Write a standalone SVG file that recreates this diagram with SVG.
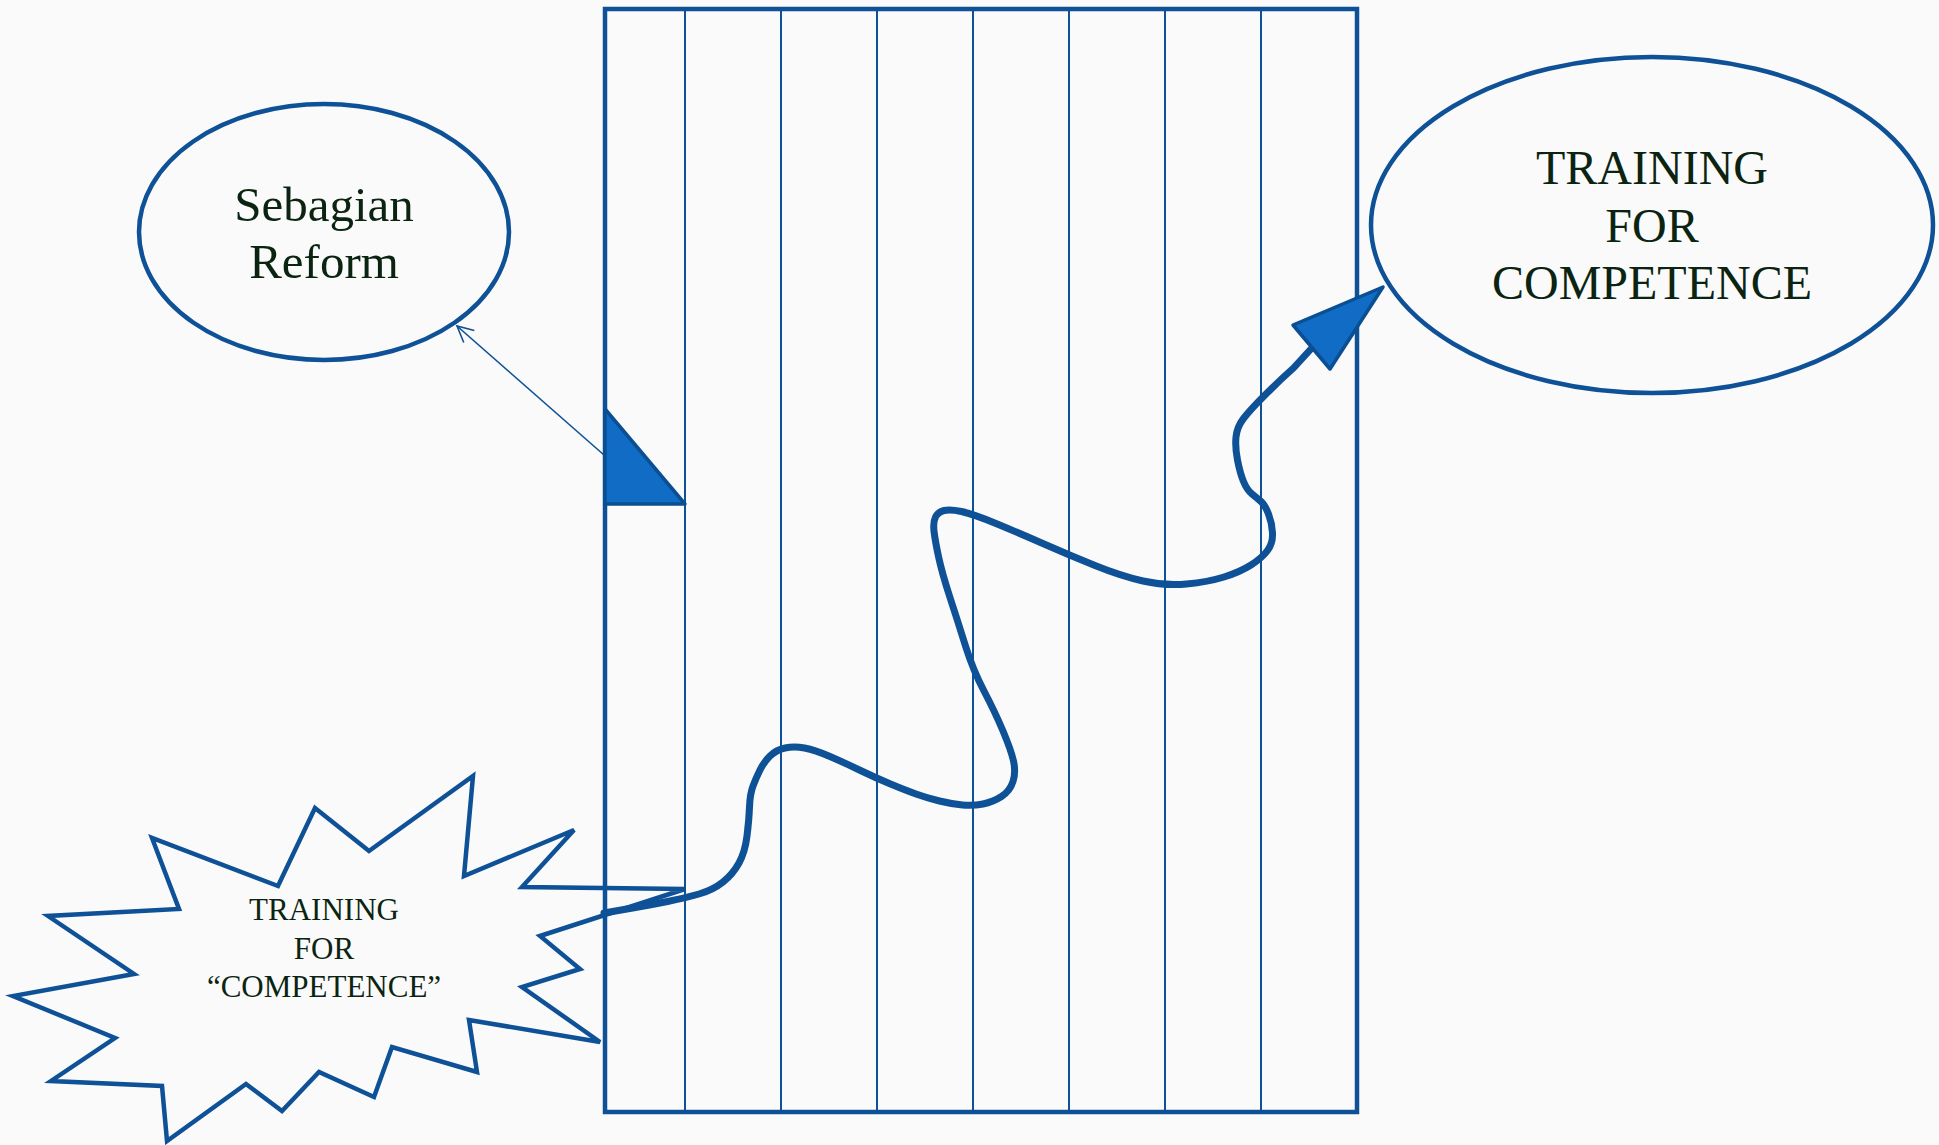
<svg xmlns="http://www.w3.org/2000/svg" width="1939" height="1145" viewBox="0 0 1939 1145">
<defs>
<style>
.ln{fill:none;stroke:#0e5197;}
.txt{font-family:"Liberation Serif","DejaVu Serif",serif;fill:#0b2411;text-anchor:middle;}
.fillTri{fill:#106cc4;stroke:#0b4f93;stroke-width:3.5;stroke-linejoin:round;}
</style>
<marker id="openArrow" markerWidth="20" markerHeight="20" refX="17" refY="10" orient="auto" markerUnits="userSpaceOnUse">
<path d="M1,2 L17,10 L1,18" fill="none" stroke="#0e5197" stroke-width="1.6"/>
</marker>
</defs>
<rect x="0" y="0" width="1939" height="1145" fill="#fafafa"/>

<g id="grid">
<rect class="ln" x="605" y="9" width="752" height="1103" stroke-width="4.5"/>
<g class="ln" stroke-width="2">
<line x1="685" y1="9" x2="685" y2="1112"/>
<line x1="781" y1="9" x2="781" y2="1112"/>
<line x1="877" y1="9" x2="877" y2="1112"/>
<line x1="973" y1="9" x2="973" y2="1112"/>
<line x1="1069" y1="9" x2="1069" y2="1112"/>
<line x1="1165" y1="9" x2="1165" y2="1112"/>
<line x1="1261" y1="9" x2="1261" y2="1112"/>
</g>
</g>

<g id="node-sebagian">
<ellipse class="ln" cx="324" cy="232" rx="185" ry="128" stroke-width="4.5"/>
<text class="txt" x="324" y="221" font-size="49">Sebagian</text>
<text class="txt" x="324" y="278" font-size="49">Reform</text>
</g>

<g id="node-training-competence">
<ellipse class="ln" cx="1652" cy="225" rx="281" ry="168" stroke-width="4.5"/>
<text class="txt" x="1652" y="184" font-size="48">TRAINING</text>
<text class="txt" x="1652" y="242" font-size="48">FOR</text>
<text class="txt" x="1652" y="299" font-size="48">COMPETENCE</text>
</g>

<g id="node-training-quoted">
<polygon class="ln" stroke-width="4.5" stroke-linejoin="miter" points="473,776 464,876 574,830 522,887 685,889 540,936 580,969 522,987 600,1042 469,1020 477,1072 392,1047 374,1097 319,1072 282,1111 246,1084 167,1141 162,1086 51,1081 115,1038 13,996 134,974 48,916 179,909 152,838 278,886 315,808 369,851"/>
<text class="txt" x="324" y="920" font-size="31">TRAINING</text>
<text class="txt" x="324" y="959" font-size="31">FOR</text>
<text class="txt" x="324" y="997" font-size="31">“COMPETENCE”</text>
</g>

<g id="node-marker-triangle">
<polygon class="fillTri" points="605,409 685,504 605,504"/>
</g>

<g id="connectors">
<line class="ln" x1="604" y1="455" x2="457" y2="326" stroke-width="1.6" marker-end="url(#openArrow)"/>
<path class="ln" stroke-width="7" stroke-linecap="round" stroke-linejoin="round" d="M604,913 Q621,910 635.5,907.5 Q650,905 667.5,901.5 Q685,898 699,894 Q713,890 723,882 Q733,874 739,863 Q745,852 747,836 Q749,820 749.5,807 Q750,794 753,786 Q756,778 760,770 Q764,762 770,756 Q776,750 785,748 Q794,746 804.5,748 Q815,750 830,756.5 Q845,763 860.5,770.5 Q876,778 890.5,784 Q905,790 916,794 Q927,798 939.5,801 Q952,804 962.5,805 Q973,806 983,804 Q993,802 1001.5,796.5 Q1010,791 1013,781.5 Q1016,772 1013.5,761 Q1011,750 1003,731 Q995,712 984,691 Q973,670 965.5,646 Q958,622 950,597.5 Q942,573 938.5,556.5 Q935,540 934,531 Q933,522 935.5,517 Q938,512 944,510.5 Q950,509 961.5,511.5 Q973,514 996,523.5 Q1019,533 1044,544 Q1069,555 1095,565.5 Q1121,576 1143,581 Q1165,586 1186.5,584 Q1208,582 1224,577 Q1240,572 1251,565 Q1262,558 1267.5,550.5 Q1273,543 1272.5,533 Q1272,523 1268.5,514 Q1265,505 1261,501.5 Q1257,498 1252,494 Q1247,490 1243.5,481.5 Q1240,473 1237.5,460 Q1235,447 1236,437 Q1237,427 1243.5,418.5 Q1250,410 1265,395 Q1280,380 1293.5,368 L1310,350"/>
<polygon class="fillTri" points="1293,325 1383,287 1330,369"/>
</g>
</svg>
